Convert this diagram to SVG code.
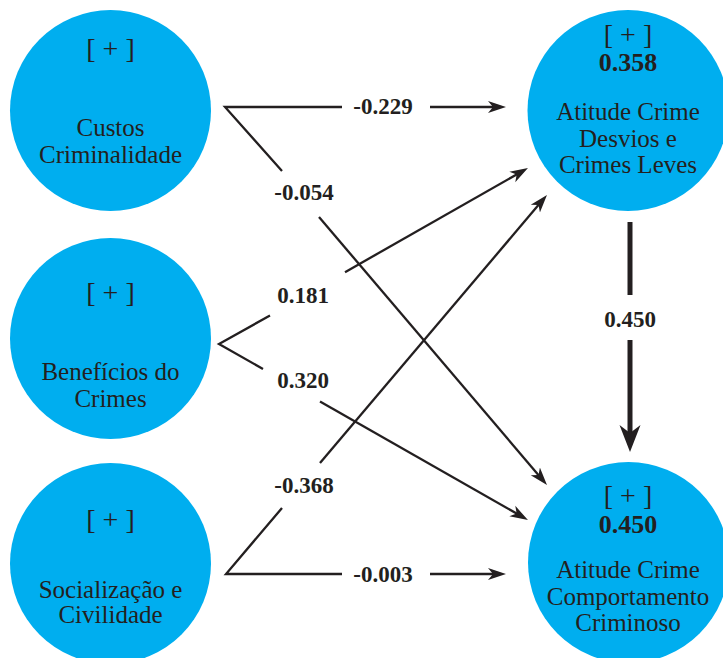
<svg xmlns="http://www.w3.org/2000/svg" width="723" height="658" viewBox="0 0 723 658">
<style>
.node{fill:#00AEEF;}
.t{font-size:25px;fill:#231F20;text-anchor:middle;}
.p{font-size:28px;fill:#231F20;text-anchor:middle;}
.b{font-size:26px;font-weight:bold;fill:#231F20;text-anchor:middle;}
.lbl{font-size:23px;font-weight:bold;fill:#231F20;text-anchor:middle;}
.ln{fill:none;stroke:#231F20;stroke-width:2.3;}
.arr{marker-end:url(#ah);}
.thick{fill:none;stroke:#231F20;stroke-width:5;}
</style>
<defs>
<marker id="ah" markerUnits="userSpaceOnUse" markerWidth="20" markerHeight="14" refX="10" refY="7" orient="auto">
<path d="M0,1 L18,7 L0,13 L5,7 Z" fill="#231F20"/>
</marker>
<marker id="ahb" markerUnits="userSpaceOnUse" markerWidth="30" markerHeight="24" refX="15" refY="11" orient="auto">
<path d="M0,0.5 L27,11 L0,21.5 L8,11 Z" fill="#231F20"/>
</marker>
</defs>
<g id="connectors" font-family="'Liberation Serif', 'Times New Roman', 'DejaVu Serif', serif">
<polyline class="ln" points="342,107 225,107 282,171"/>
<line class="ln arr" x1="430" y1="107" x2="498" y2="107"/>
<line class="ln arr" x1="319" y1="217" x2="541.8" y2="478.9"/>
<polyline class="ln" points="270,315.5 219,344 263,369"/>
<line class="ln arr" x1="345" y1="272.2" x2="521" y2="172"/>
<line class="ln arr" x1="320" y1="401.5" x2="521" y2="516"/>
<polyline class="ln" points="342,574 226,574 282,508"/>
<line class="ln arr" x1="430" y1="574" x2="498" y2="574"/>
<line class="ln arr" x1="320" y1="463" x2="541.8" y2="201.1"/>
<line class="thick" x1="630" y1="222" x2="630" y2="295"/>
<line class="thick" x1="630" y1="340" x2="630" y2="440" marker-end="url(#ahb)"/>
<text class="lbl" x="383" y="114">-0.229</text>
<text class="lbl" x="304" y="200">-0.054</text>
<text class="lbl" x="303" y="303">0.181</text>
<text class="lbl" x="303" y="388">0.320</text>
<text class="lbl" x="304" y="493">-0.368</text>
<text class="lbl" x="383" y="582">-0.003</text>
<text class="lbl" x="630" y="327">0.450</text>
</g>
<g id="custos" font-family="'Liberation Serif', 'Times New Roman', 'DejaVu Serif', serif">
<circle class="node" cx="110.5" cy="110.5" r="100.5"/>
<text class="p" x="110.5" y="58">[ + ]</text>
<text class="t" x="110.5" y="136">Custos</text>
<text class="t" x="110.5" y="163">Criminalidade</text>
</g>
<g id="beneficios" font-family="'Liberation Serif', 'Times New Roman', 'DejaVu Serif', serif">
<circle class="node" cx="110.5" cy="338.5" r="100.5"/>
<text class="p" x="110.5" y="302">[ + ]</text>
<text class="t" x="110.5" y="380">Benefícios do</text>
<text class="t" x="110.5" y="407">Crimes</text>
</g>
<g id="socializacao" font-family="'Liberation Serif', 'Times New Roman', 'DejaVu Serif', serif">
<circle class="node" cx="110.5" cy="563.5" r="100.5"/>
<text class="p" x="110.5" y="529">[ + ]</text>
<text class="t" x="110.5" y="598">Socialização e</text>
<text class="t" x="110.5" y="623">Civilidade</text>
</g>
<g id="desvios" font-family="'Liberation Serif', 'Times New Roman', 'DejaVu Serif', serif">
<circle class="node" cx="628" cy="110.5" r="100.5"/>
<text class="p" x="628" y="44">[ + ]</text>
<text class="b" x="628" y="71">0.358</text>
<text class="t" x="628" y="120">Atitude Crime</text>
<text class="t" x="628" y="147">Desvios e</text>
<text class="t" x="628" y="173">Crimes Leves</text>
</g>
<g id="comportamento" font-family="'Liberation Serif', 'Times New Roman', 'DejaVu Serif', serif">
<circle class="node" cx="628.5" cy="562.5" r="100.5"/>
<text class="p" x="628" y="505">[ + ]</text>
<text class="b" x="628" y="533">0.450</text>
<text class="t" x="628" y="578">Atitude Crime</text>
<text class="t" x="628" y="605">Comportamento</text>
<text class="t" x="628" y="631">Criminoso</text>
</g>
</svg>
